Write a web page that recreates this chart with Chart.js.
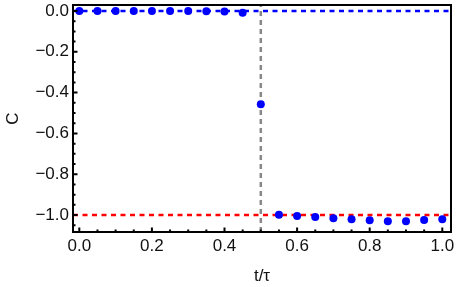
<!DOCTYPE html>
<html>
<head>
<meta charset="utf-8">
<script src="https://cdn.jsdelivr.net/npm/chart.js@4/dist/chart.umd.min.js"></script>
<style>
  html, body { margin: 0; padding: 0; background: #fff; }
  #wrap { width: 457px; height: 287px; }
</style>
</head>
<body>
<div id="wrap"><canvas id="chart"></canvas></div>
<script>
// sampled values of C against t/tau
const tValues = [0, 0.05, 0.1, 0.15, 0.2, 0.25, 0.3, 0.35, 0.4, 0.45, 0.5,
  0.55, 0.6, 0.65, 0.7, 0.75, 0.8, 0.85, 0.9, 0.95, 1.0];
const cValues = [0, 0, 0, 0, 0, 0, 0, -0.001, -0.002, -0.008, -0.457,
  -0.998, -1.005, -1.01, -1.016, -1.02, -1.025, -1.03, -1.03, -1.024, -1.02];

// reference lines
const upperLevel = 0;
const lowerLevel = -1;
const switchTime = 0.5;

const xRange = [-0.0174, 1.024];
const yRange = [-1.083, 0.0294];
const xTicks = [0, 0.2, 0.4, 0.6, 0.8, 1.0];
const yTicks = [-1.0, -0.8, -0.6, -0.4, -0.2, 0];
const minorStep = 0.05;

const font = { family: "'Liberation Sans', Arial, sans-serif", size: 17 };

function formatTick(value) {
  return value.toFixed(1).replace('-', '\u2212');
}

// Mathematica-style frame with inward ticks on left and bottom
const framePlugin = {
  id: 'frame',
  afterDatasetsDraw(chart) {
    const { ctx, chartArea } = chart;
    const xs = chart.scales.x;
    const ys = chart.scales.y;
    ctx.save();
    ctx.strokeStyle = '#000';
    ctx.lineWidth = 2;
    ctx.beginPath();
    for (let v = 0; v <= 1.0001; v += minorStep) {
      const major = Math.abs(v / 0.2 - Math.round(v / 0.2)) < 1e-6;
      const px = xs.getPixelForValue(v);
      ctx.moveTo(px, chartArea.bottom);
      ctx.lineTo(px, chartArea.bottom - (major ? 4.5 : 2.5));
    }
    for (let v = 0; v >= -1.0801; v -= minorStep) {
      const major = Math.abs(v / 0.2 - Math.round(v / 0.2)) < 1e-6;
      const py = ys.getPixelForValue(v);
      ctx.moveTo(chartArea.left, py);
      ctx.lineTo(chartArea.left + (major ? 4.5 : 2.5), py);
    }
    ctx.stroke();
    ctx.strokeRect(chartArea.left, chartArea.top,
      chartArea.right - chartArea.left, chartArea.bottom - chartArea.top);
    ctx.restore();
  }
};

new Chart(document.getElementById('chart'), {
  type: 'scatter',
  data: {
    datasets: [
      {
        label: 'C',
        data: tValues.map((t, i) => ({ x: t, y: cValues[i] })),
        backgroundColor: 'rgb(0, 0, 255)',
        borderColor: 'rgb(0, 0, 255)',
        pointRadius: 4,
        pointBorderWidth: 0,
        showLine: false,
        order: 0,
      },
      {
        label: 'upper',
        data: [{ x: xRange[0], y: upperLevel }, { x: xRange[1], y: upperLevel }],
        borderColor: 'rgb(0, 0, 255)',
        borderWidth: 2.5,
        borderDash: [5, 4.5],
        showLine: true,
        pointRadius: 0,
        order: 1,
      },
      {
        label: 'lower',
        data: [{ x: xRange[0], y: lowerLevel }, { x: xRange[1], y: lowerLevel }],
        borderColor: 'rgb(255, 0, 0)',
        borderWidth: 2.5,
        borderDash: [5, 4.5],
        showLine: true,
        pointRadius: 0,
        order: 1,
      },
      {
        label: 'switch',
        data: [{ x: switchTime, y: yRange[0] }, { x: switchTime, y: yRange[1] }],
        borderColor: 'rgb(136, 136, 136)',
        borderWidth: 2.5,
        borderDash: [5, 4],
        showLine: true,
        pointRadius: 0,
        order: 1,
      },
    ],
  },
  options: {
    responsive: true,
    maintainAspectRatio: false,
    animation: false,
    layout: { padding: { top: 5, right: 6, left: 0, bottom: 0 } },
    plugins: { legend: { display: false }, tooltip: { enabled: false } },
    scales: {
      x: {
        type: 'linear',
        min: xRange[0],
        max: xRange[1],
        afterBuildTicks: (s) => { s.ticks = xTicks.map((v) => ({ value: v })); },
        afterFit: (s) => { s.height = 55; s.paddingLeft = 0; s.paddingRight = 0; },
        grid: { display: false, drawTicks: false },
        border: { display: false },
        ticks: { font, color: '#111', padding: 4, maxRotation: 0, callback: formatTick },
        title: { display: true, text: 't/\u03c4', font, color: '#111', padding: { top: 0, bottom: 0 } },
      },
      y: {
        type: 'linear',
        min: yRange[0],
        max: yRange[1],
        afterBuildTicks: (s) => { s.ticks = yTicks.map((v) => ({ value: v })); },
        afterFit: (s) => { s.width = 73; s.paddingTop = 0; s.paddingBottom = 0; },
        grid: { display: false, drawTicks: false },
        border: { display: false },
        ticks: { font, color: '#111', padding: 4, callback: formatTick },
        title: { display: true, text: 'C', font, color: '#111', padding: { top: 3, bottom: 0 } },
      },
    },
  },
  plugins: [framePlugin],
});
</script>
</body>
</html>
